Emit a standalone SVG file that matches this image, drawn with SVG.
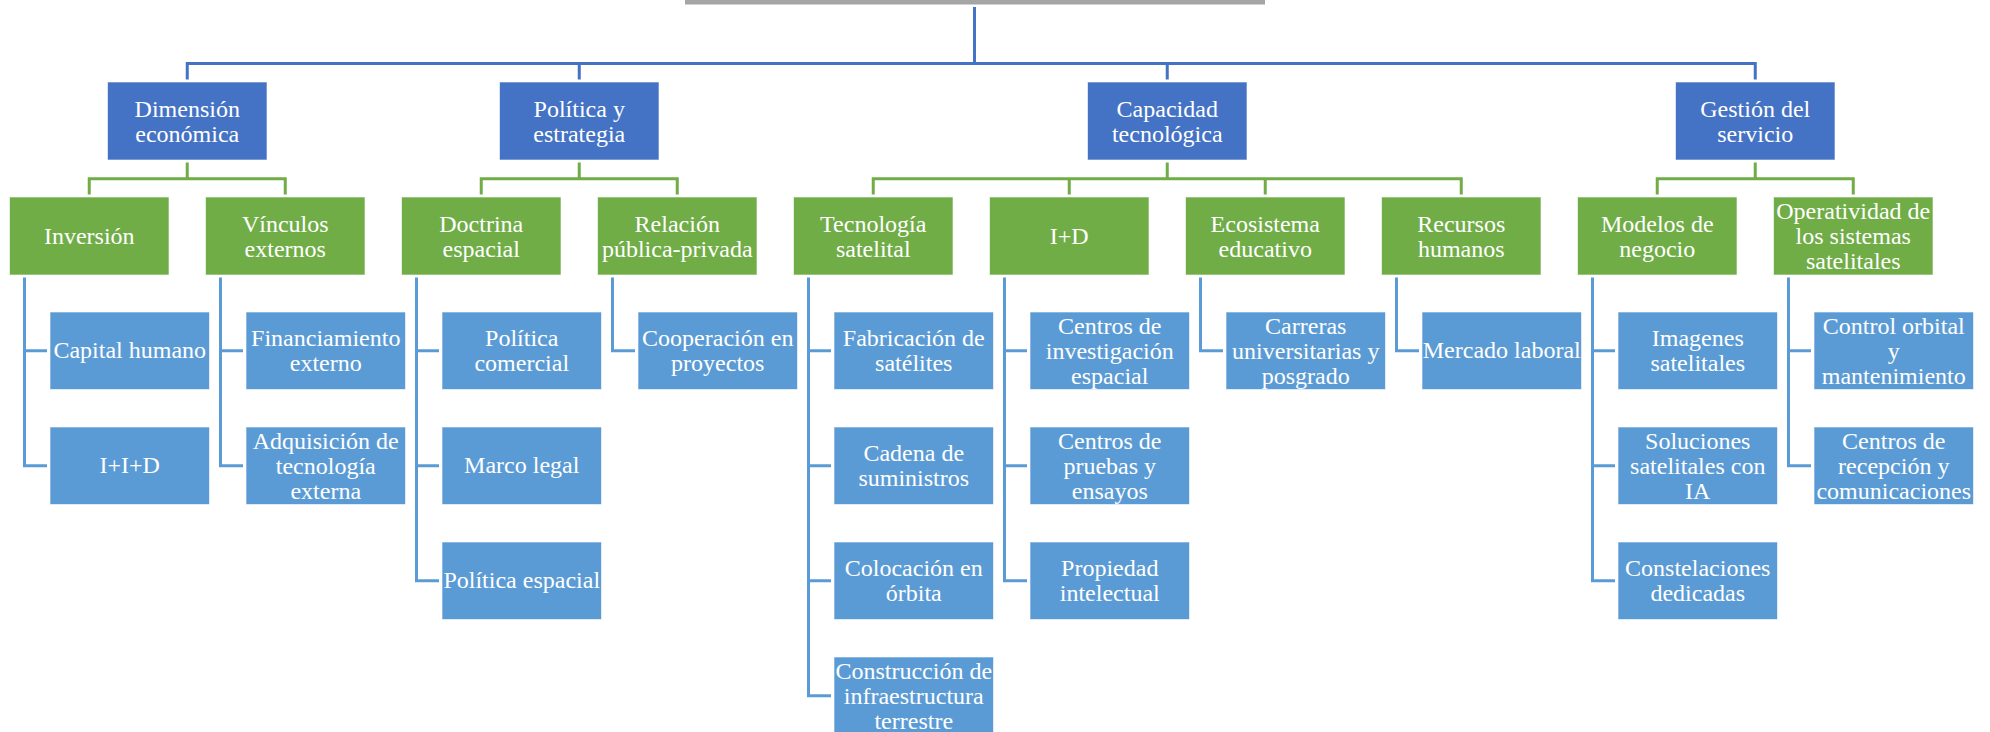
<svg xmlns="http://www.w3.org/2000/svg" width="1990" height="732" viewBox="0 0 1990 732">
  <style>
    .l1 { fill: #4472C4; stroke: #ffffff; stroke-opacity: 0.6; stroke-width: 1; }
    .l2 { fill: #70AD47; stroke: #ffffff; stroke-opacity: 0.6; stroke-width: 1; }
    .l3 { fill: #5B9BD5; stroke: #ffffff; stroke-opacity: 0.6; stroke-width: 1; }
    .t { font-family: "Liberation Serif", "Times New Roman", serif; font-size: 24px; fill: #ffffff; text-anchor: middle; }
    .cb { fill: none; stroke: #4472C4; stroke-width: 3; }
    .cg { fill: none; stroke: #70AD47; stroke-width: 3; }
    .cl { fill: none; stroke: #5B9BD5; stroke-width: 3; }
  </style>

  <!-- root bar (top edge of the root box) -->
  <rect id="root" x="685" y="0" width="580" height="4.5" fill="#A5A5A5"/>

  <g id="connectors">
    <!-- root to dimensions -->
    <path class="cb" d="M974.5,7 V63.5 M185.75,63.5 H1756.75 M187.25,63.5 V79.5 M579.25,63.5 V79.5 M1167.25,63.5 V79.5 M1755.25,63.5 V79.5"/>
    <!-- dimensions to sub-dimensions -->
    <path class="cg" d="M187.25,162.5 V178.7 M87.75,178.7 H286.75 M89.25,178.7 V194.5 M285.25,178.7 V194.5"/>
    <path class="cg" d="M579.25,162.5 V178.7 M479.75,178.7 H678.75 M481.25,178.7 V194.5 M677.25,178.7 V194.5"/>
    <path class="cg" d="M1167.25,162.5 V178.7 M871.75,178.7 H1462.75 M873.25,178.7 V194.5 M1069.25,178.7 V194.5 M1265.25,178.7 V194.5 M1461.25,178.7 V194.5"/>
    <path class="cg" d="M1755.25,162.5 V178.7 M1655.75,178.7 H1854.75 M1657.25,178.7 V194.5 M1853.25,178.7 V194.5"/>
    <!-- sub-dimensions to indicators -->
    <path class="cl" d="M24.5,277.5 V467.25 M23,350.75 H47 M23,465.75 H47"/>
    <path class="cl" d="M220.5,277.5 V467.25 M219,350.75 H243 M219,465.75 H243"/>
    <path class="cl" d="M416.5,277.5 V582.25 M415,350.75 H439 M415,465.75 H439 M415,580.75 H439"/>
    <path class="cl" d="M612.5,277.5 V352.25 M611,350.75 H635"/>
    <path class="cl" d="M808.5,277.5 V697.25 M807,350.75 H831 M807,465.75 H831 M807,580.75 H831 M807,695.75 H831"/>
    <path class="cl" d="M1004.5,277.5 V582.25 M1003,350.75 H1027 M1003,465.75 H1027 M1003,580.75 H1027"/>
    <path class="cl" d="M1200.5,277.5 V352.25 M1199,350.75 H1223"/>
    <path class="cl" d="M1396.5,277.5 V352.25 M1395,350.75 H1419"/>
    <path class="cl" d="M1592.5,277.5 V582.25 M1591,350.75 H1615 M1591,465.75 H1615 M1591,580.75 H1615"/>
    <path class="cl" d="M1788.5,277.5 V467.25 M1787,350.75 H1811 M1787,465.75 H1811"/>
  </g>

  <!-- dimensions -->
  <g id="dimension-economica">
    <rect class="l1" x="107.5" y="82" width="159.5" height="78"/>
    <text class="t"><tspan x="187.25" y="116.5">Dimensión</tspan><tspan x="187.25" y="141.5">económica</tspan></text>
  </g>
  <g id="politica-estrategia">
    <rect class="l1" x="499.5" y="82" width="159.5" height="78"/>
    <text class="t"><tspan x="579.25" y="116.5">Política y</tspan><tspan x="579.25" y="141.5">estrategia</tspan></text>
  </g>
  <g id="capacidad-tecnologica">
    <rect class="l1" x="1087.5" y="82" width="159.5" height="78"/>
    <text class="t"><tspan x="1167.25" y="116.5">Capacidad</tspan><tspan x="1167.25" y="141.5">tecnológica</tspan></text>
  </g>
  <g id="gestion-servicio">
    <rect class="l1" x="1675.5" y="82" width="159.5" height="78"/>
    <text class="t"><tspan x="1755.25" y="116.5">Gestión del</tspan><tspan x="1755.25" y="141.5">servicio</tspan></text>
  </g>

  <!-- sub-dimensions -->
  <g id="inversion">
    <rect class="l2" x="9.5" y="197" width="159.5" height="78"/>
    <text class="t" x="89.25" y="244">Inversión</text>
  </g>
  <g id="vinculos-externos">
    <rect class="l2" x="205.5" y="197" width="159.5" height="78"/>
    <text class="t"><tspan x="285.25" y="231.5">Vínculos</tspan><tspan x="285.25" y="256.5">externos</tspan></text>
  </g>
  <g id="doctrina-espacial">
    <rect class="l2" x="401.5" y="197" width="159.5" height="78"/>
    <text class="t"><tspan x="481.25" y="231.5">Doctrina</tspan><tspan x="481.25" y="256.5">espacial</tspan></text>
  </g>
  <g id="relacion-publica-privada">
    <rect class="l2" x="597.5" y="197" width="159.5" height="78"/>
    <text class="t"><tspan x="677.25" y="231.5">Relación</tspan><tspan x="677.25" y="256.5">pública-privada</tspan></text>
  </g>
  <g id="tecnologia-satelital">
    <rect class="l2" x="793.5" y="197" width="159.5" height="78"/>
    <text class="t"><tspan x="873.25" y="231.5">Tecnología</tspan><tspan x="873.25" y="256.5">satelital</tspan></text>
  </g>
  <g id="i-d">
    <rect class="l2" x="989.5" y="197" width="159.5" height="78"/>
    <text class="t" x="1069.25" y="244">I+D</text>
  </g>
  <g id="ecosistema-educativo">
    <rect class="l2" x="1185.5" y="197" width="159.5" height="78"/>
    <text class="t"><tspan x="1265.25" y="231.5">Ecosistema</tspan><tspan x="1265.25" y="256.5">educativo</tspan></text>
  </g>
  <g id="recursos-humanos">
    <rect class="l2" x="1381.5" y="197" width="159.5" height="78"/>
    <text class="t"><tspan x="1461.25" y="231.5">Recursos</tspan><tspan x="1461.25" y="256.5">humanos</tspan></text>
  </g>
  <g id="modelos-negocio">
    <rect class="l2" x="1577.5" y="197" width="159.5" height="78"/>
    <text class="t"><tspan x="1657.25" y="231.5">Modelos de</tspan><tspan x="1657.25" y="256.5">negocio</tspan></text>
  </g>
  <g id="operatividad-sistemas">
    <rect class="l2" x="1773.5" y="197" width="159.5" height="78"/>
    <text class="t"><tspan x="1853.25" y="219">Operatividad de</tspan><tspan x="1853.25" y="244">los sistemas</tspan><tspan x="1853.25" y="269">satelitales</tspan></text>
  </g>

  <!-- indicators -->
  <g id="capital-humano">
    <rect class="l3" x="50" y="312" width="159.5" height="77.5"/>
    <text class="t" x="129.75" y="358">Capital humano</text>
  </g>
  <g id="i-i-d">
    <rect class="l3" x="50" y="427" width="159.5" height="77.5"/>
    <text class="t" x="129.75" y="473">I+I+D</text>
  </g>
  <g id="financiamiento-externo">
    <rect class="l3" x="246" y="312" width="159.5" height="77.5"/>
    <text class="t"><tspan x="325.75" y="346.25">Financiamiento</tspan><tspan x="325.75" y="371.25">externo</tspan></text>
  </g>
  <g id="adquisicion-tecnologia">
    <rect class="l3" x="246" y="427" width="159.5" height="77.5"/>
    <text class="t"><tspan x="325.75" y="448.75">Adquisición de</tspan><tspan x="325.75" y="473.75">tecnología</tspan><tspan x="325.75" y="498.75">externa</tspan></text>
  </g>
  <g id="politica-comercial">
    <rect class="l3" x="442" y="312" width="159.5" height="77.5"/>
    <text class="t"><tspan x="521.75" y="346.25">Política</tspan><tspan x="521.75" y="371.25">comercial</tspan></text>
  </g>
  <g id="marco-legal">
    <rect class="l3" x="442" y="427" width="159.5" height="77.5"/>
    <text class="t" x="521.75" y="473">Marco legal</text>
  </g>
  <g id="politica-espacial">
    <rect class="l3" x="442" y="542" width="159.5" height="77.5"/>
    <text class="t" x="521.75" y="588">Política espacial</text>
  </g>
  <g id="cooperacion-proyectos">
    <rect class="l3" x="638" y="312" width="159.5" height="77.5"/>
    <text class="t"><tspan x="717.75" y="346.25">Cooperación en</tspan><tspan x="717.75" y="371.25">proyectos</tspan></text>
  </g>
  <g id="fabricacion-satelites">
    <rect class="l3" x="834" y="312" width="159.5" height="77.5"/>
    <text class="t"><tspan x="913.75" y="346.25">Fabricación de</tspan><tspan x="913.75" y="371.25">satélites</tspan></text>
  </g>
  <g id="cadena-suministros">
    <rect class="l3" x="834" y="427" width="159.5" height="77.5"/>
    <text class="t"><tspan x="913.75" y="461.25">Cadena de</tspan><tspan x="913.75" y="486.25">suministros</tspan></text>
  </g>
  <g id="colocacion-orbita">
    <rect class="l3" x="834" y="542" width="159.5" height="77.5"/>
    <text class="t"><tspan x="913.75" y="576.25">Colocación en</tspan><tspan x="913.75" y="601.25">órbita</tspan></text>
  </g>
  <g id="construccion-infraestructura">
    <rect class="l3" x="834" y="657" width="159.5" height="77.5"/>
    <text class="t"><tspan x="913.75" y="678.75">Construcción de</tspan><tspan x="913.75" y="703.75">infraestructura</tspan><tspan x="913.75" y="728.75">terrestre</tspan></text>
  </g>
  <g id="centros-investigacion">
    <rect class="l3" x="1030" y="312" width="159.5" height="77.5"/>
    <text class="t"><tspan x="1109.75" y="333.75">Centros de</tspan><tspan x="1109.75" y="358.75">investigación</tspan><tspan x="1109.75" y="383.75">espacial</tspan></text>
  </g>
  <g id="centros-pruebas">
    <rect class="l3" x="1030" y="427" width="159.5" height="77.5"/>
    <text class="t"><tspan x="1109.75" y="448.75">Centros de</tspan><tspan x="1109.75" y="473.75">pruebas y</tspan><tspan x="1109.75" y="498.75">ensayos</tspan></text>
  </g>
  <g id="propiedad-intelectual">
    <rect class="l3" x="1030" y="542" width="159.5" height="77.5"/>
    <text class="t"><tspan x="1109.75" y="576.25">Propiedad</tspan><tspan x="1109.75" y="601.25">intelectual</tspan></text>
  </g>
  <g id="carreras-universitarias">
    <rect class="l3" x="1226" y="312" width="159.5" height="77.5"/>
    <text class="t"><tspan x="1305.75" y="333.75">Carreras</tspan><tspan x="1305.75" y="358.75">universitarias y</tspan><tspan x="1305.75" y="383.75">posgrado</tspan></text>
  </g>
  <g id="mercado-laboral">
    <rect class="l3" x="1422" y="312" width="159.5" height="77.5"/>
    <text class="t" x="1501.75" y="358">Mercado laboral</text>
  </g>
  <g id="imagenes-satelitales">
    <rect class="l3" x="1618" y="312" width="159.5" height="77.5"/>
    <text class="t"><tspan x="1697.75" y="346.25">Imagenes</tspan><tspan x="1697.75" y="371.25">satelitales</tspan></text>
  </g>
  <g id="soluciones-ia">
    <rect class="l3" x="1618" y="427" width="159.5" height="77.5"/>
    <text class="t"><tspan x="1697.75" y="448.75">Soluciones</tspan><tspan x="1697.75" y="473.75">satelitales con</tspan><tspan x="1697.75" y="498.75">IA</tspan></text>
  </g>
  <g id="constelaciones-dedicadas">
    <rect class="l3" x="1618" y="542" width="159.5" height="77.5"/>
    <text class="t"><tspan x="1697.75" y="576.25">Constelaciones</tspan><tspan x="1697.75" y="601.25">dedicadas</tspan></text>
  </g>
  <g id="control-orbital">
    <rect class="l3" x="1814" y="312" width="159.5" height="77.5"/>
    <text class="t"><tspan x="1893.75" y="333.75">Control orbital</tspan><tspan x="1893.75" y="358.75">y</tspan><tspan x="1893.75" y="383.75">mantenimiento</tspan></text>
  </g>
  <g id="centros-recepcion">
    <rect class="l3" x="1814" y="427" width="159.5" height="77.5"/>
    <text class="t"><tspan x="1893.75" y="448.75">Centros de</tspan><tspan x="1893.75" y="473.75">recepción y</tspan><tspan x="1893.75" y="498.75">comunicaciones</tspan></text>
  </g>
</svg>
